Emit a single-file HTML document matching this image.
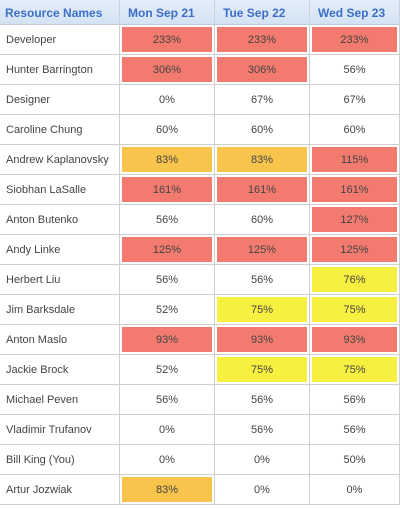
<!DOCTYPE html>
<html><head><meta charset="utf-8"><style>
body{margin:0;width:400px;height:508px;background:#fff;font-family:"Liberation Sans",sans-serif;overflow:hidden}
#grid{position:absolute;left:0;top:0;width:400px;height:508px}
.h{position:absolute;top:0;height:25px;line-height:27px;background:linear-gradient(#e4eef9,#d3e2f3);color:#3d6fc9;font-weight:bold;font-size:12px;border-right:1px solid #c9d3de;border-bottom:1px solid #c2ccd6;box-sizing:border-box}
.c{position:absolute;height:30px;border-bottom:1px solid #cfcfcf;border-right:1px solid #cfcfcf;box-sizing:border-box;font-size:11px;color:#444}
.f{position:absolute;left:2px;right:2px;top:2px;bottom:2px;line-height:26px;text-align:center}
</style></head><body>
<div id="grid"></div>
<script>
const names=["Developer","Hunter Barrington","Designer","Caroline Chung","Andrew Kaplanovsky","Siobhan LaSalle","Anton Butenko","Andy Linke","Herbert Liu","Jim Barksdale","Anton Maslo","Jackie Brock","Michael Peven","Vladimir Trufanov","Bill King (You)","Artur Jozwiak"];
const days=["Mon Sep 21","Tue Sep 22","Wed Sep 23"];
const mon=[233,306,0,60,83,161,56,125,56,52,93,52,56,0,0,83];
const tue=[233,306,67,60,83,161,60,125,56,75,93,75,56,56,0,0];
const wed=[233,56,67,60,115,161,127,125,76,75,93,75,56,56,50,0];
const g=document.getElementById('grid');
const colX=[0,120,215,310,400];
function color(v){if(v>=90)return'#f27a6e';if(v>=80)return'#f8c44c';if(v>=70)return'#f8f040';return'';}
const hdrs=["Resource Names"].concat(days);
hdrs.forEach((t,i)=>{const d=document.createElement('div');d.className='h';


d.style.left=colX[i]+'px';d.style.width=(colX[i+1]-colX[i])+'px';d.style.paddingLeft=(i==0?'5px':'8px');d.textContent=t;g.appendChild(d);});
const series=[mon,tue,wed];
names.forEach((n,r)=>{const y=25+r*30;
const nc=document.createElement('div');nc.className='c';


nc.style.left='0px';nc.style.top=y+'px';nc.style.width='120px';nc.style.lineHeight='30px';nc.style.paddingLeft='6px';nc.textContent=n;g.appendChild(nc);
series.forEach((s,i)=>{const c=document.createElement('div');c.className='c';


c.style.left=colX[i+1]+'px';c.style.top=y+'px';c.style.width=(colX[i+2]-colX[i+1])+'px';
const f=document.createElement('div');f.className='f';f.style.background=color(s[r]);f.textContent=s[r]+'%';c.appendChild(f);g.appendChild(c);});
});
</script>
</body></html>
